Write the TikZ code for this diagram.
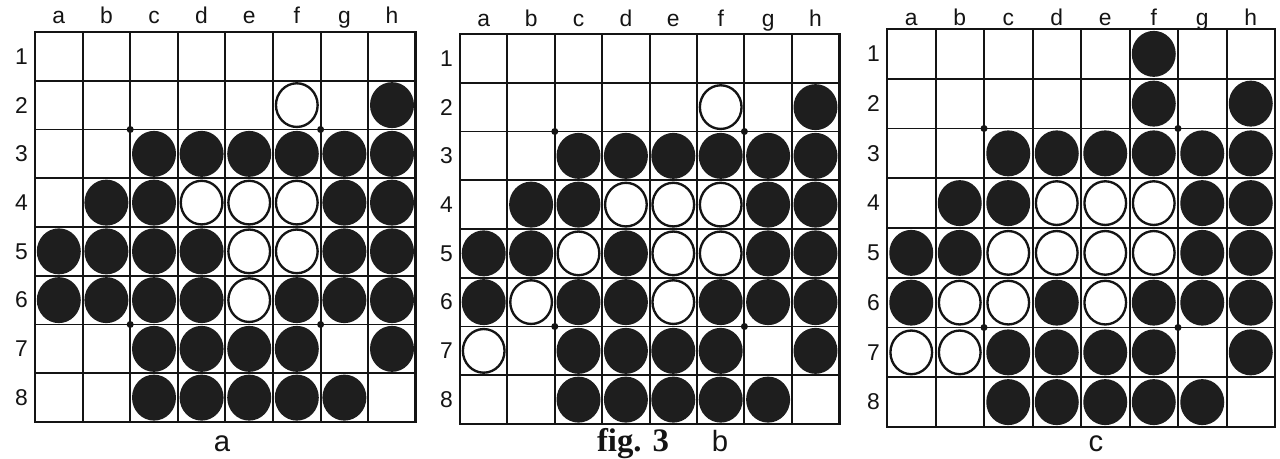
\documentclass[tikz,border=0pt]{standalone}
\usepackage{fontspec}
\setmainfont{Liberation Serif}
\setsansfont{Liberation Sans}
\usepackage{tikz}
\usetikzlibrary{shapes.geometric}
\definecolor{ink}{HTML}{141414}
\definecolor{stonefill}{HTML}{1E1E1E}
\tikzset{
  cell/.style={line width=1.7pt, draw=ink},
  rim/.style={line width=2.3pt, draw=ink},
  stone/.style={ellipse, inner sep=0pt, minimum width=1.32cm, minimum height=1.38cm},
  blackstone/.style={stone, fill=stonefill},
  whitestone/.style={stone, draw=ink, fill=white, line width=2pt,
    minimum width=1.25cm, minimum height=1.31cm},
  star/.style={circle, fill=ink, inner sep=0pt, minimum size=6pt},
  coordlab/.style={font=\sffamily\fontsize{19.5}{21}\selectfont, text=ink, inner sep=0pt},
  boardtag/.style={font=\sffamily\fontsize{25}{28}\selectfont, text=ink, inner sep=0pt},
  figtag/.style={font=\rmfamily\bfseries\fontsize{28}{30}\selectfont, text=ink, inner sep=0pt},
}
\begin{document}
\begin{tikzpicture}[x=0.03cm,y=-0.03cm]
  \useasboundingbox (0,0) rectangle (1280,459);
  \foreach \bd/\ox/\oy/\cw/\ch/\lg/\blk/\wht in {
      a/35/32/47.6/48.75/8/{8/2,3/3,4/3,5/3,6/3,7/3,8/3,2/4,3/4,7/4,8/4,1/5,2/5,3/5,4/5,7/5,8/5,1/6,2/6,3/6,4/6,6/6,7/6,8/6,3/7,4/7,5/7,6/7,8/7,3/8,4/8,5/8,6/8,7/8}/{6/2,4/4,5/4,6/4,5/5,6/5,5/6},
      b/460/34/47.4/48.75/7/{8/2,3/3,4/3,5/3,6/3,7/3,8/3,2/4,3/4,7/4,8/4,1/5,2/5,4/5,7/5,8/5,1/6,3/6,4/6,6/6,7/6,8/6,3/7,4/7,5/7,6/7,8/7,3/8,4/8,5/8,6/8,7/8}/{6/2,4/4,5/4,6/4,3/5,5/5,6/5,2/6,5/6,1/7},
      c/887/29/48.5/49.75/3/{6/1,6/2,8/2,3/3,4/3,5/3,6/3,7/3,8/3,2/4,3/4,7/4,8/4,1/5,2/5,7/5,8/5,1/6,4/6,6/6,7/6,8/6,3/7,4/7,5/7,6/7,8/7,3/8,4/8,5/8,6/8,7/8}/{4/4,5/4,6/4,3/5,4/5,5/5,6/5,2/6,3/6,5/6,1/7,2/7}} {
    \begin{scope}[shift={(\ox,\oy)}]
      \foreach \k in {1,...,7} {
        \draw[cell] ({\k*\cw},0) -- ({\k*\cw},{8*\ch});
        \draw[cell] (0,{\k*\ch}) -- ({8*\cw},{\k*\ch});
      }
      \draw[rim] (0,0) rectangle ({8*\cw},{8*\ch});
      \foreach \k/\c in {1/a,2/b,3/c,4/d,5/e,6/f,7/g,8/h}
        \node[coordlab, anchor=base] (\bd-col-\k) at ({(\k-0.5)*\cw},-\lg) {\c};
      \foreach \k in {1,...,8}
        \node[coordlab, anchor=east] (\bd-row-\k) at (-7,{(\k-0.5)*\ch}) {\k};
      \foreach \i/\j in \blk
        \node[blackstone] (\bd-\i-\j) at ({(\i-0.5)*\cw},{(\j-0.5)*\ch}) {};
      \foreach \i/\j in \wht
        \node[whitestone] (\bd-\i-\j) at ({(\i-0.5)*\cw},{(\j-0.5)*\ch}) {};
      \foreach \i/\j in {2/2,6/2,2/6,6/6}
        \node[star] (\bd-star-\i-\j) at ({\i*\cw},{\j*\ch}) {};
    \end{scope}
  }
  % captions
  \node[boardtag, anchor=base] (tag-a) at (222,452) {a};
  \node[figtag, anchor=base] (fig) at (633,452) {fig. 3};
  \node[boardtag, anchor=base] (tag-b) at (720,452) {b};
  \node[boardtag, anchor=base] (tag-c) at (1096,452) {c};
\end{tikzpicture}
\end{document}
